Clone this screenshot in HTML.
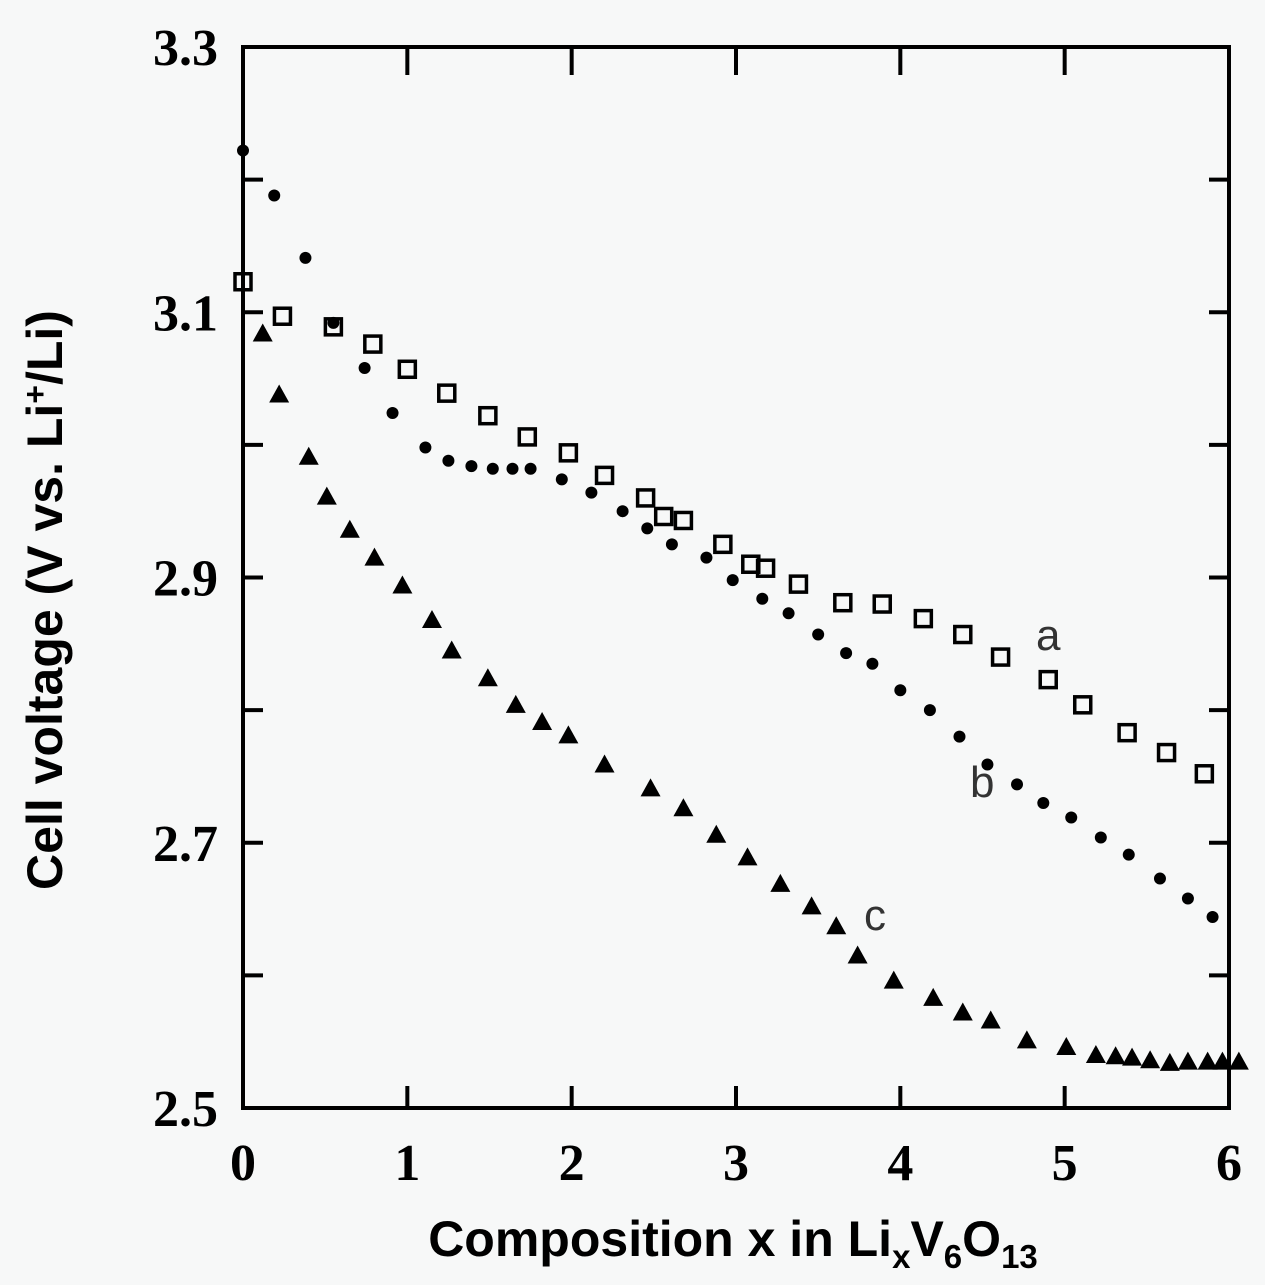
<!DOCTYPE html>
<html><head><meta charset="utf-8"><style>
html,body{margin:0;padding:0;background:#f7f8f8;}
svg{display:block;}
</style></head><body>
<svg id="chart" width="1265" height="1285" viewBox="0 0 1265 1285" xmlns="http://www.w3.org/2000/svg">
<rect x="0" y="0" width="1265" height="1285" fill="#f7f8f8"/>
<g id="axes"></g>
<g id="marks"></g>
<text x="1036" y="650" font-family="Liberation Sans, sans-serif" font-size="44" fill="#333">a</text>
<text x="970" y="797" font-family="Liberation Sans, sans-serif" font-size="44" fill="#333">b</text>
<text x="864" y="930" font-family="Liberation Sans, sans-serif" font-size="44" fill="#333">c</text>
<text transform="translate(62,600) rotate(-90)" text-anchor="middle" font-family="Liberation Sans, sans-serif" font-weight="bold" font-size="50" fill="#000">Cell voltage (V vs. Li<tspan dy="-16" font-size="32">+</tspan><tspan dy="16">/Li)</tspan></text>
<text x="733" y="1256" text-anchor="middle" font-family="Liberation Sans, sans-serif" font-weight="bold" font-size="50" fill="#000">Composition x in Li<tspan dy="12" font-size="33">x</tspan><tspan dy="-12">V</tspan><tspan dy="12" font-size="33">6</tspan><tspan dy="-12">O</tspan><tspan dy="12" font-size="33">13</tspan></text>
</svg>
<script>
const xTicks=[0,1,2,3,4,5,6];
const yTicks=[2.5,2.6,2.7,2.8,2.9,3.0,3.1,3.2,3.3];
const yLabels=["2.5","2.7","2.9","3.1","3.3"];
const aX=[0.0,0.24,0.55,0.79,1.0,1.24,1.49,1.73,1.98,2.20,2.45,2.56,2.68,2.92,3.09,3.18,3.38,3.65,3.89,4.14,4.38,4.61,4.90,5.11,5.38,5.62,5.85];
const aY=[3.123,3.097,3.089,3.076,3.057,3.039,3.022,3.006,2.994,2.977,2.960,2.946,2.943,2.925,2.910,2.907,2.895,2.881,2.880,2.869,2.857,2.840,2.823,2.804,2.783,2.768,2.752];
const bX=[0,0.19,0.38,0.55,0.74,0.91,1.11,1.25,1.39,1.52,1.64,1.75,1.94,2.12,2.31,2.46,2.61,2.82,2.98,3.16,3.32,3.50,3.67,3.83,4.0,4.18,4.36,4.53,4.71,4.87,5.04,5.22,5.39,5.58,5.75,5.90];
const bY=[3.222,3.188,3.141,3.092,3.058,3.024,2.998,2.988,2.984,2.982,2.982,2.982,2.974,2.964,2.950,2.937,2.925,2.915,2.898,2.884,2.873,2.857,2.843,2.835,2.815,2.800,2.780,2.759,2.744,2.730,2.719,2.704,2.691,2.673,2.658,2.644];
const cX=[0.12,0.22,0.40,0.51,0.65,0.80,0.97,1.15,1.27,1.49,1.66,1.82,1.98,2.20,2.48,2.68,2.88,3.07,3.27,3.46,3.61,3.74,3.96,4.20,4.38,4.55,4.77,5.01,5.19,5.31,5.41,5.52,5.64,5.75,5.87,5.96,6.06];
const cY=[3.084,3.038,2.991,2.961,2.936,2.915,2.894,2.868,2.845,2.824,2.804,2.791,2.781,2.759,2.741,2.726,2.706,2.689,2.669,2.652,2.637,2.615,2.596,2.583,2.572,2.566,2.551,2.546,2.540,2.539,2.538,2.536,2.534,2.535,2.535,2.535,2.535];

const L=243,R=1229,T=47,B=1108;
const sx=v=>L+(v-0)/(6-0)*(R-L);
const sy=v=>B-(v-2.5)/(3.3-2.5)*(B-T);
const NS="http://www.w3.org/2000/svg";
const axes=document.getElementById('axes'),marks=document.getElementById('marks');
function mk(tag,attrs,parent){const e=document.createElementNS(NS,tag);for(const k in attrs)e.setAttribute(k,attrs[k]);parent.appendChild(e);return e;}
let f=mk('rect',{x:L,y:T,width:R-L,height:B-T,fill:'none',stroke:'#000','stroke-width':4},axes);


xTicks.forEach(v=>{
  let t=mk('line',{x1:sx(v),x2:sx(v),y1:B,y2:B-22,stroke:'#000','stroke-width':4},axes);
  
  
  let t2=mk('line',{x1:sx(v),x2:sx(v),y1:T,y2:T+28,stroke:'#000','stroke-width':4},axes);
  
  
  let l=mk('text',{x:sx(v),y:1180,'text-anchor':'middle','font-family':'Liberation Serif, serif','font-weight':'bold','font-size':52,fill:'#000'},axes);
  l.textContent=String(v);
  
  
});
yTicks.forEach(v=>{
  let t=mk('line',{x1:L,x2:L+20,y1:sy(v),y2:sy(v),stroke:'#000','stroke-width':4},axes);
  
  
  let t2=mk('line',{x1:R,x2:R-20,y1:sy(v),y2:sy(v),stroke:'#000','stroke-width':4},axes);
  
  
});
yLabels.forEach(s=>{
  let l=mk('text',{x:218,y:sy(parseFloat(s))+18,'text-anchor':'end','font-family':'Liberation Serif, serif','font-weight':'bold','font-size':52,fill:'#000'},axes);
  l.textContent=s;
  
  
});
aX.forEach((x,i)=>{
  let m=mk('rect',{x:sx(x)-8,y:sy(aY[i])-8,width:16,height:16,fill:'none',stroke:'#000','stroke-width':3.5},marks);
  
  
});
bX.forEach((x,i)=>{
  let m=mk('circle',{cx:sx(x),cy:sy(bY[i]),r:6,fill:'#000'},marks);
  
  
});
cX.forEach((x,i)=>{
  const px=sx(x),py=sy(cY[i]);
  let m=mk('polygon',{points:`${px},${py-10} ${px-10},${py+8} ${px+10},${py+8}`,fill:'#000'},marks);
  
  
});
</script>
</body></html>
